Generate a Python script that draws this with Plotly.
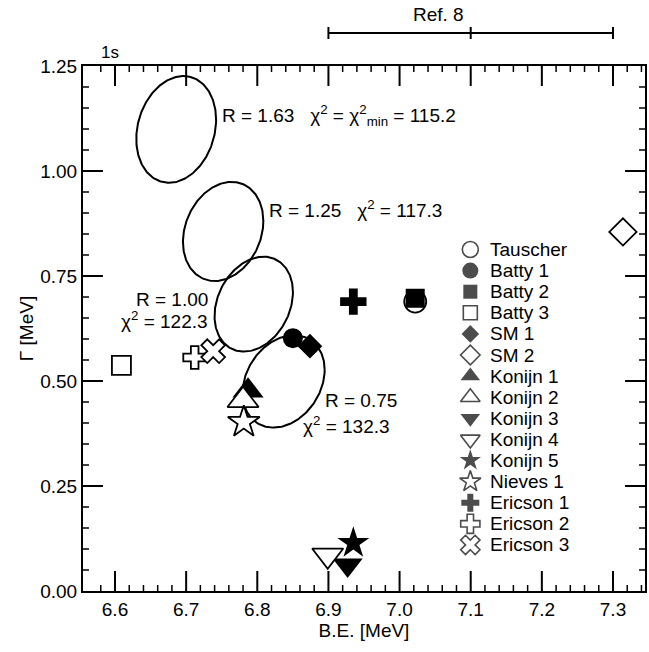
import numpy as np
import plotly.graph_objects as go

# ---------------- data ----------------
series_names = ["Tauscher", "Batty 1", "Batty 2", "Batty 3", "SM 1", "SM 2",
                "Konijn 1", "Konijn 2", "Konijn 3", "Konijn 4", "Konijn 5",
                "Nieves 1", "Ericson 1", "Ericson 2", "Ericson 3"]
be_mev = [7.022, 6.850, 7.022, 6.609, 6.874, 7.314,
          6.787, 6.780, 6.927, 6.899, 6.935,
          6.781, 6.935, 6.712, 6.738]
gamma_mev = [0.689, 0.602, 0.697, 0.537, 0.583, 0.855,
             0.477, 0.454, 0.062, 0.085, 0.114,
             0.402, 0.689, 0.556, 0.571]

# chi^2 contours for several radius parameters R
ellipse_R = [1.63, 1.25, 1.00, 0.75]
ellipse_chi2 = [115.2, 117.3, 122.3, 132.3]
ellipse_center_be = [6.686, 6.752, 6.795, 6.837]
ellipse_center_gamma = [1.099, 0.856, 0.683, 0.499]
ellipse_half_be = [0.0561, 0.0565, 0.0551, 0.0577]
ellipse_half_gamma = [0.127, 0.118, 0.113, 0.110]
ellipse_corr = [0.18, 0.21, 0.25, 0.25]

ref8_be = [6.9, 7.1, 7.3]   # Ref. 8 range (low, central, high)

x_ticks = [6.6, 6.7, 6.8, 6.9, 7.0, 7.1, 7.2, 7.3]
y_ticks = [0.00, 0.25, 0.50, 0.75, 1.00, 1.25]
x_minor_step = 0.02
y_minor_step = 0.05

# ---------------- styles ----------------
symbols = ["circle", "circle", "square", "square", "diamond", "diamond",
           "triangle-up", "triangle-up", "triangle-down", "triangle-down", "star",
           "star", "cross", "cross", "x"]
filled = [False, True, True, False, True, False,
          True, False, True, False, True,
          False, True, False, False]
sizes = [22, 20, 19, 19, 19, 21, 27, 27, 26, 27, 24, 24, 22, 19, 21]
legend_sizes = [16, 16, 14, 14, 13.5, 15, 17, 17, 17, 17, 16, 16, 15, 16, 17]

FONT = "Liberation Sans, Arial, Helvetica, sans-serif"
FS = 19
L, R, T, B = 83, 2, 66, 61
W, H = 649, 652
PW, PH = W - L - R, H - T - B
X_RANGE = [6.555, 7.345]
Y_RANGE = [0.0, 1.25]
MAJ_LEN, MIN_LEN = 20, 6

fig = go.Figure()

# ---------- inside ticks on all four sides, drawn on the data axes ----------
def _minor(lo, hi, step, majors):
    vals = np.round(np.arange(lo, hi + 1e-9, step), 4)
    return [float(v) for v in vals
            if all(abs(v - m) > 1e-6 for m in majors) and lo < v < hi]

x_minor = _minor(6.56, X_RANGE[1], x_minor_step, x_ticks)
y_minor = _minor(Y_RANGE[0], Y_RANGE[1], y_minor_step, y_ticks)

def tick_segments(xvals, yvals, length_px):
    ly = length_px / PH * (Y_RANGE[1] - Y_RANGE[0])
    lx = length_px / PW * (X_RANGE[1] - X_RANGE[0])
    xs, ys = [], []
    for v in xvals:
        xs += [v, v, None, v, v, None]
        ys += [Y_RANGE[0], Y_RANGE[0] + ly, None, Y_RANGE[1] - ly, Y_RANGE[1], None]
    for v in yvals:
        xs += [X_RANGE[0], X_RANGE[0] + lx, None, X_RANGE[1] - lx, X_RANGE[1], None]
        ys += [v, v, None, v, v, None]
    return xs, ys

for xv, yv, ln, wd in [(x_ticks, [v for v in y_ticks if Y_RANGE[0] < v < Y_RANGE[1]], MAJ_LEN, 2),
                       (x_minor, y_minor, MIN_LEN, 1.5)]:
    tx, ty = tick_segments(xv, yv, ln)
    fig.add_trace(go.Scatter(x=tx, y=ty, mode="lines", line=dict(color="black", width=wd),
                             showlegend=False, hoverinfo="skip", connectgaps=False))

# ellipses (drawn under the markers)
t = np.linspace(0, 2 * np.pi, 241)
for cx, cy, hx, hy, rho in zip(ellipse_center_be, ellipse_center_gamma,
                               ellipse_half_be, ellipse_half_gamma, ellipse_corr):
    ex = cx + hx * np.cos(t)
    ey = cy + hy * (rho * np.cos(t) + np.sqrt(1 - rho ** 2) * np.sin(t))
    fig.add_trace(go.Scatter(x=ex, y=ey, mode="lines",
                             line=dict(color="black", width=2),
                             showlegend=False, hoverinfo="skip"))

# data points
for name, x, y, sym, f, s in zip(series_names, be_mev, gamma_mev, symbols, filled, sizes):
    fig.add_trace(go.Scatter(
        x=[x], y=[y], mode="markers", name=name, showlegend=False,
        marker=dict(symbol=sym, size=s, color="black" if f else "white",
                    line=dict(color="black", width=0 if f else 1.8))))

# key: one row per series, positioned from the row index
row0_px, row_step_px = 249.5, 21.1
key_sym_px, key_txt_px = 471.7, 489.3
n = len(series_names)
row_frac = [1 - (row0_px + i * row_step_px - T) / PH for i in range(n)]
sym_frac = (key_sym_px - L) / PW
key_x = X_RANGE[0] + sym_frac * (X_RANGE[1] - X_RANGE[0])
key_y = [Y_RANGE[0] + f * (Y_RANGE[1] - Y_RANGE[0]) for f in row_frac]
fig.add_trace(go.Scatter(
    x=[key_x] * n, y=key_y, mode="markers", showlegend=False, hoverinfo="skip",
    marker=dict(symbol=symbols, size=legend_sizes,
                color=["black" if f else "white" for f in filled],
                line=dict(color="black", width=[0 if f else 1.6 for f in filled]))))

annotations = []
for name, fy in zip(series_names, row_frac):
    annotations.append(dict(x=(key_txt_px - L) / PW, y=fy, xref="paper", yref="paper",
                            text=name, showarrow=False, xanchor="left", yanchor="middle",
                            font=dict(size=FS, color="black", family=FONT)))

sp = "\u00a0\u00a0\u00a0"
chi = "χ<sup>2</sup>"
ann_specs = [
    (f"R = {ellipse_R[0]:.2f}{sp}{chi} = χ<sup>2</sup><sub>min</sub> = {ellipse_chi2[0]}", 6.747, 1.133, "left"),
    (f"R = {ellipse_R[1]:.2f}{sp}{chi} = {ellipse_chi2[1]}", 6.813, 0.910, "left"),
    (f"R = {ellipse_R[2]:.2f}", 6.733, 0.695, "right"),
    (f"{chi} = {ellipse_chi2[2]}", 6.733, 0.645, "right"),
    (f"R = {ellipse_R[3]:.2f}", 6.892, 0.453, "left"),
    (f"{chi} = {ellipse_chi2[3]}", 6.861, 0.395, "left"),
]
for txt, x, y, anc in ann_specs:
    annotations.append(dict(x=x, y=y, xref="x", yref="y", text=txt, showarrow=False,
                            xanchor=anc, yanchor="middle",
                            font=dict(size=FS, color="black", family=FONT)))

# Ref. 8 bar above the frame
shapes = []
bar_y = (PH - (33 - T)) / PH
tick_h = 6 / PH
shapes.append(dict(type="line", xref="x", yref="paper", x0=ref8_be[0], x1=ref8_be[-1],
                   y0=bar_y, y1=bar_y, line=dict(color="black", width=2)))
for xv in ref8_be:
    shapes.append(dict(type="line", xref="x", yref="paper", x0=xv, x1=xv,
                       y0=bar_y - tick_h, y1=bar_y + tick_h,
                       line=dict(color="black", width=2)))
annotations.append(dict(x=7.055, y=(PH - (15 - T)) / PH, xref="x", yref="paper",
                        text="Ref. 8", showarrow=False, xanchor="center", yanchor="middle",
                        font=dict(size=FS, color="black", family=FONT)))
annotations.append(dict(x=6.593, y=(PH - (52.6 - T)) / PH, xref="x", yref="paper",
                        text="1s", showarrow=False, xanchor="center", yanchor="middle",
                        font=dict(size=17, color="black", family=FONT)))

fig.update_layout(
    width=W, height=H,
    margin=dict(l=L, r=R, t=T, b=B),
    paper_bgcolor="white", plot_bgcolor="white",
    font=dict(family=FONT, size=FS, color="black"),
    xaxis=dict(
        range=X_RANGE, tickmode="array", tickvals=x_ticks,
        ticktext=[f"{v:.1f}" for v in x_ticks], ticks="",
        showline=True, linecolor="black", linewidth=2, mirror=True,
        showgrid=False, zeroline=False,
        tickfont=dict(size=FS, color="black", family=FONT),
        title=dict(text="B.E. [MeV]", font=dict(size=FS, family=FONT), standoff=4)),
    yaxis=dict(
        range=Y_RANGE, tickmode="array", tickvals=y_ticks,
        ticktext=[f"{v:.2f}" for v in y_ticks], ticks="",
        showline=True, linecolor="black", linewidth=2, mirror=True,
        showgrid=False, zeroline=False,
        tickfont=dict(size=FS, color="black", family=FONT),
        title=dict(text="Γ [MeV]", font=dict(size=FS, family=FONT), standoff=2)),
    shapes=shapes,
    annotations=annotations,
    showlegend=False,
)

fig.write_html("out.html")
